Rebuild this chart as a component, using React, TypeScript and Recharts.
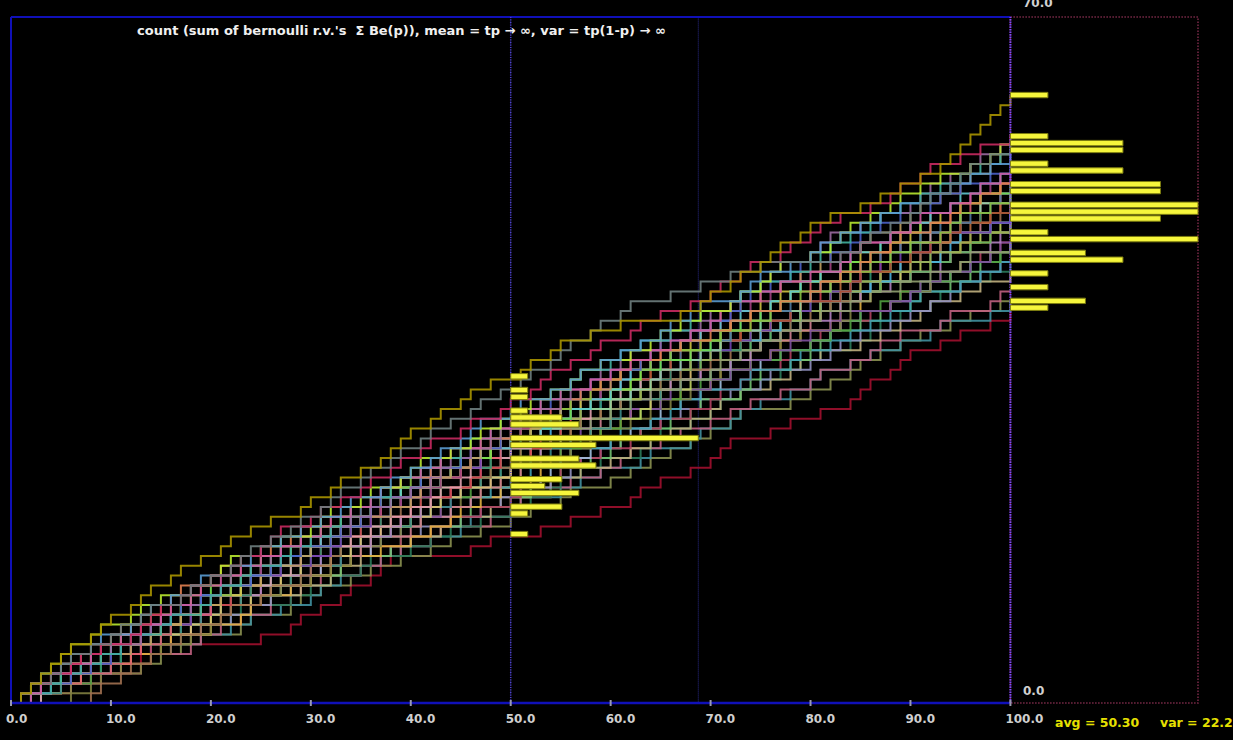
import { ComposedChart, Line, XAxis, YAxis, ReferenceArea, ReferenceLine } from "recharts";

// each path: 100 Bernoulli outcomes (1 = count goes up), written in blocks of ten
const PATHS: string[] = [
	"1111110111 0111011010 1101010011 0110101111 0110110100 1101100100 1000001011 0110111011 0100101010 1011111111",
	"1101110101 1011001101 0111010110 1110110110 1101011010 1101110110 1100010010 0100100000 0010110101 1101110101",
	"1101011010 0111101101 0110111001 1010110110 1100110011 0111010110 0110100101 1011001101 1010010110 1100101001",
	"1110110110 0111010110 0101101010 1011001101 0110111001 1001011010 1010110110 0011100101 1010101010 0101010101",
	"1111110110 0110100101 1100101001 1100110011 1001011010 1101011010 0101101010 0110111001 0111010110 1010010110",
	"0111010110 1010110110 1010101010 1101011010 1011001101 0110100101 0101010101 1100101001 0011100101 1001011010",
	"0101101010 1100110011 1011001101 0111010110 1010110110 0110111001 1010010110 0110100101 1101011010 1010101010",
	"1011001101 0011100101 1101011010 0101010101 0111010110 1010110110 1100110011 0110111001 1100101001 1101011010",
	"0111101101 0110111001 1010010110 1001011010 0110100101 1010101010 1100101001 0101001001 1010110110 0101101010",
	"0101010101 1101011010 1001011010 0110111001 1100110011 1011001101 0011100101 0111010110 0101101010 0110100101",
	"1010110110 1100101001 0111010110 1011001101 1010101010 1010010110 1001010010 1001011010 0101010101 0011100101",
	"1010010110 0101101010 1100110011 0110100101 1101011010 0110111001 1011001101 1010101010 1100110011 1010110110",
	"0110111001 1001011010 0101010101 1010110110 1100101001 0011100101 1101011010 1010010110 1011001101 0101101010",
	"1100101001 0111010110 0110100101 1010101010 0110111001 1100110011 1001011010 1101011010 0110100101 0101010101",
	"1100110011 1011001101 0101101010 1010010110 0011100101 0101010101 0110100101 1010110110 1001011010 1100101001",
	"0110100101 1010101010 1010110110 0110111001 1010010110 1100101001 0111010110 0101101010 0011100101 1010101010",
	"0101001001 0110111001 1101011010 1100101001 1100110011 0111010110 1010101010 0101010101 1010010110 1001011010",
	"1101011010 0101010101 0110111001 0011100101 0101101010 1001011010 1100101001 0110100101 1010101010 1010010110",
	"1001011010 1011001101 0011100101 1101011010 0101010101 0100110001 0101101010 1100110011 0110100101 1100101001",
	"1101110101 1010010110 0110100101 1100101001 0101010101 0101101010 1001011010 0011000110 0011100101 0110100101",
	"1010101010 0110100101 1100101001 0111010110 1011001101 1010010110 1000101010 0101010101 0101101010 0110000101",
	"1011001101 1001011010 1010101010 0101101010 1010110110 0101001001 0011100101 1001010010 1100101001 0100110001",
	"0011100101 1100101001 1010010110 0101010101 0110111001 0110100101 1010110110 1100101001 1001011010 0101101010",
	"1001010010 1101011010 1001011010 1011001101 0110100101 1010101010 1010010110 0011100101 0101010101 1100101001",
	"0111010110 0101101010 0011100101 1001011010 1100101001 1011001101 0011000110 1010010110 0110100101 1001011010",
	"1100101001 1010110110 0101010101 0110100101 1010101010 0101101010 0110100101 1000101010 1010010110 0011100101",
	"0101101010 1010010110 1011001101 1001011010 0110100101 0110000101 0101001001 1010101010 1001010010 0100110001",
	"0110100101 0011100101 0101101010 1100101001 1001011010 0110111001 0101010101 1010010110 1100101001 1010101010",
	"0000000110 1101011010 1100110011 0111010110 0101010101 1001011010 1100101001 0110100101 0101101010 1010010110",
	"0110111001 1000101010 0110100101 0011100101 1010010110 1100101001 1010101010 1001011010 0101001001 0101010101",
	"1001011010 0101010101 0100110001 1010010110 1101011010 0011100101 1001010010 0101101010 0110100101 0011000110",
	"1100101001 0110000101 1001011010 0101101010 0110100101 1101011010 1010010110 1010101010 1011001101 0011100101",
	"0100110001 1010101010 1010010110 0011100101 0101101010 0101010101 1100101001 0111010110 1001011010 0110100101",
	"1010110110 0101001001 0011000110 0101010101 1100101001 0110100101 0011100101 0101101010 1010101010 1001011010",
	"1010010110 0110100101 0101101010 1000101010 0011100101 1100101001 0100110001 0101010101 0110000101 1010010110",
	"0011000110 1100101001 1001011010 0110100101 1010010110 1000101010 1010101010 0101001001 0101101010 1001010010",
	"0101010101 1001010010 1010101010 0100110001 1001011010 1010110110 0101101010 0110100101 1100110011 1100101001",
	"0000010110 0011100101 1100101001 0101101010 1010101010 1010010110 0101010101 1001011010 0011000110 0110100101",
	"0110100101 0101101010 1001010010 1100101001 0110000101 0100110001 1001011010 0011000110 0101010101 1000101010",
	"1000101010 0100110001 0011100101 0101001001 0101101010 0111010110 1100101001 1001011010 0110111001 0110100101",
	"1010101010 0011000110 0101001001 1001011010 1001010010 0011100101 0101101010 1100101001 0110100101 0101010101",
	"0110000101 1001011010 0100110001 1001010010 0101001001 1010101010 0110100101 1011001101 1010010110 0101101010",
	"0101101010 0101001001 1000101010 0011000110 0100110001 0110100101 1010010110 0011100101 1100101001 1001011010",
	"0101001001 1001010010 0101010101 0110000101 1000101010 1001011010 1010101010 0100110001 0110100101 0101101010",
	"0100110001 0110000101 1001010010 0110100101 0011000110 0101001001 0101010101 1010010110 1000101010 1100101001",
	"1001010010 1000101010 0110000101 0100110001 0101001001 0101101010 0011100101 1010101010 1001011010 0110100101",
	"0100100010 0011000110 1010010110 1000101010 0110000101 1001010010 1100101001 0101001001 1001011010 0011000110",
	"0110000101 1000010010 0101001001 1010101010 0100110001 1000101010 0011000110 0110100101 1001010010 0110000101",
	"0010010100 1000101010 0011000110 1001010010 0101001001 0100110001 0101010101 0110000101 0101101010 1001010010",
	"0010010100 1010100000 0000100110 1011011100 0000010100 0010010010 0110100101 1100010100 1001110111 0010100101",
];

const COLORS: string[] = [
	"#a89400", "#6e7e7e", "#c82a60", "#5a9ad0", "#b8e830", "#d05aa0", "#40b0a0", "#9a6aa0", "#e08050", "#4a60c8",
	"#8ac040", "#c0a060", "#60c8d0", "#a04080", "#70e050", "#d0c040", "#e06070", "#5078a0", "#90d0a0", "#b05030",
	"#7040b0", "#a0b050", "#e0a0b0", "#309070", "#c07040", "#4ab0e0", "#90a070", "#d04050", "#a07050", "#60b060",
	"#b080c0", "#e0c070", "#3a8a8a", "#c0d060", "#8050a0", "#50a040", "#d08090", "#808040", "#40a0b0", "#e0b040",
	"#a0c0e0", "#b04060", "#70c070", "#9090c0", "#c0b080", "#2a7a5a", "#c06080", "#4090a0", "#8a9050", "#a0102e",
];

const X_TICKS = [0, 10, 20, 30, 40, 50, 60, 70, 80, 90, 100];
const T_END = 100;
const T_MID = 50;
const Y_MAX = 70;
const BIN = 0.7; // 100 bins over 0..70
const HIST_W = 18.77; // widest histogram bar, in time units
const X_MAX = T_END + HIST_W;

const steps = PATHS.map((s) => s.replace(/ /g, ""));
const counts: number[][] = steps.map((s) => {
	const out = [0];
	for (let i = 0; i < s.length; i++) out.push(out[i] + (s[i] === "1" ? 1 : 0));
	return out;
});

const data = Array.from({ length: T_END + 1 }, (_, t) => {
	const row: Record<string, number> = { t };
	counts.forEach((c, i) => {
		row[`p${i}`] = c[t];
	});
	return row;
});

function histogram(t: number) {
	const m = new Map<number, number>();
	counts.forEach((c) => {
		const k = Math.floor(c[t] / BIN);
		m.set(k, (m.get(k) || 0) + 1);
	});
	const rows = [...m.entries()].map(([bin, n]) => ({ bin, n }));
	const max = Math.max(...rows.map((r) => r.n));
	return rows.map((r) => ({ ...r, len: (r.n / max) * HIST_W }));
}

const midHist = histogram(T_MID);
const endHist = histogram(T_END);

const finals = counts.map((c) => c[T_END]);
const avg = finals.reduce((s, v) => s + v, 0) / finals.length;
const variance = finals.reduce((s, v) => s + (v - avg) * (v - avg), 0) / finals.length;

const FONT = "DejaVu Sans, Verdana, sans-serif";

function XTick(props: any) {
	const { x, y, payload } = props;
	return (
		<g>
			<line x1={x} x2={x} y1={y - 3} y2={y + 3} stroke="#9a9ab0" strokeWidth={2} />
			<text x={x - 5} y={y + 20} fill="#cfcfcf" fontSize={12} fontWeight="bold" fontFamily={FONT}>
				{Number(payload.value).toFixed(1)}
			</text>
		</g>
	);
}

function HistBars({ rows, base }: { rows: { bin: number; len: number }[]; base: number }) {
	return (
		<>
			{rows.map((r) => (
				<ReferenceArea
					key={`${base}-${r.bin}`}
					x1={base}
					x2={base + r.len}
					y1={r.bin * BIN + 0.16}
					y2={r.bin * BIN + 0.71}
					fill="#f6f63c"
					fillOpacity={1}
					stroke="#7c7c10"
					strokeWidth={1}
					ifOverflow="visible"
					zIndex={1000}
				/>
			))}
		</>
	);
}

export default function App() {
	return (
		<div style={{ position: "absolute", left: 0, top: 0, width: 1233, height: 740, background: "#000", overflow: "hidden" }}>
			<ComposedChart
				width={1233}
				height={740}
				data={data}
				margin={{ top: 17, right: 35, left: 11, bottom: 17 }}
			>
				<XAxis
					dataKey="t"
					type="number"
					domain={[0, X_MAX]}
					ticks={X_TICKS}
					interval={0}
					axisLine={false}
					tickLine={false}
					tickSize={0}
					tickMargin={0}
					height={20}
					tick={<XTick />}
				/>
				<YAxis type="number" domain={[0, Y_MAX]} hide />

				{PATHS.map((_, i) => PATHS.length - 1 - i).map((i) => (
					<Line
						key={i}
						dataKey={`p${i}`}
						type="stepAfter"
						stroke={COLORS[i]}
						strokeWidth={2}
						strokeOpacity={0.9}
						dot={false}
						activeDot={false}
						isAnimationActive={false}
					/>
				))}

				{/* main frame */}
				<ReferenceLine segment={[{ x: 0, y: 0 }, { x: 0, y: Y_MAX }]} stroke="#1010b8" strokeWidth={2} ifOverflow="visible" />
				<ReferenceLine segment={[{ x: 0, y: Y_MAX }, { x: T_END, y: Y_MAX }]} stroke="#1010b8" strokeWidth={2} ifOverflow="visible" />
				<ReferenceLine segment={[{ x: 0, y: 0 }, { x: T_END, y: 0 }]} stroke="#1010b8" strokeWidth={2.5} ifOverflow="visible" />

				{/* histogram boxes */}
				<ReferenceArea x1={T_MID} x2={T_MID + HIST_W} y1={0} y2={Y_MAX} fill="none" stroke="#2c2c90" strokeDasharray="1 1" ifOverflow="visible" />
				<ReferenceArea x1={T_END} x2={X_MAX} y1={0} y2={Y_MAX} fill="none" stroke="#7a2a48" strokeWidth={1.5} strokeDasharray="1.5 1.5" ifOverflow="visible" />
				<ReferenceLine x={T_MID} stroke="#5040c8" strokeWidth={1.5} strokeDasharray="1 1.5" ifOverflow="visible" />
				<ReferenceLine x={T_END} stroke="#7a48ff" strokeWidth={2} strokeDasharray="1.5 1" ifOverflow="visible" />

				<HistBars rows={midHist} base={T_MID} />
				<HistBars rows={endHist} base={T_END} />
			</ComposedChart>

			<svg width={1233} height={740} style={{ position: "absolute", left: 0, top: 0, pointerEvents: "none" }}>
				<text x={137} y={35} fill="#f0f0f0" fontSize={13} fontWeight="bold" fontFamily={FONT} style={{ whiteSpace: "pre" }}>
					{"count (sum of bernoulli r.v.'s  Σ Be(p)), mean = tp → ∞, var = tp(1-p) → ∞"}
				</text>
				<text x={1023} y={7} fill="#d0d0d0" fontSize={12} fontWeight="bold" fontFamily={FONT}>
					{Y_MAX.toFixed(1)}
				</text>
				<text x={1023} y={695} fill="#d0d0d0" fontSize={12} fontWeight="bold" fontFamily={FONT}>
					{(0).toFixed(1)}
				</text>
				<text x={1055} y={727} fill="#e6e000" fontSize={12.5} fontWeight="bold" fontFamily={FONT}>
					avg = {avg.toFixed(2)}
				</text>
				<text x={1160} y={727} fill="#e6e000" fontSize={12.5} fontWeight="bold" fontFamily={FONT}>
					var = {variance.toFixed(2)}
				</text>
			</svg>
		</div>
	);
}
